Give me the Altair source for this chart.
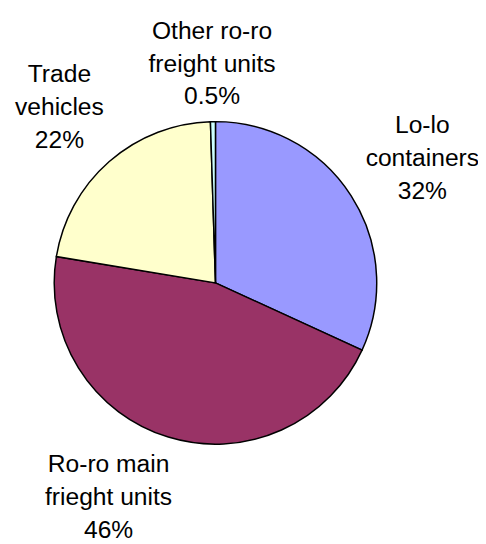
import altair as alt
import pandas as pd

categories = ["Lo-lo containers", "Ro-ro main frieght units", "Trade vehicles", "Other ro-ro freight units"]
values = [32, 46, 22, 0.5]
labels = ["Lo-lo\ncontainers\n32%", "Ro-ro main\nfrieght units\n46%", "Trade\nvehicles\n22%", "Other ro-ro\nfreight units\n0.5%"]
colors = ["#9999FF", "#993366", "#FFFFCC", "#CCFFFF"]

df = pd.DataFrame({"cat": categories, "value": values, "label": labels, "order": list(range(len(categories)))})

# layout (pixels within the view)
CX, CY = 211, 275
R = 164
LH = 33.5
label_radius = [250, 228, 241, 223]
label_dx = [0, -42, 0, 0]
label_dy = [8, 0, 3, 0]

base = alt.Chart(df).transform_joinaggregate(
    total="sum(value)"
).transform_window(
    cum="sum(value)", sort=[alt.SortField("order")], frame=[None, 0]
).transform_calculate(
    mid="(datum.cum - datum.value / 2) / datum.total * 2 * PI"
)

pie = base.mark_arc(stroke="black", strokeWidth=1.5, radius=R).encode(
    theta=alt.Theta("value:Q", stack=True),
    order=alt.Order("order:Q"),
    color=alt.Color("cat:N", scale=alt.Scale(domain=categories, range=colors), legend=None),
    x=alt.value(CX),
    y=alt.value(CY),
)

layers = [pie]
for i, c in enumerate(categories):
    t = base.mark_text(
        font="Liberation Sans", fontSize=25, lineBreak="\n", lineHeight=LH,
        align="center", baseline="middle", color="black",
        radius=label_radius[i], dx=label_dx[i], dy=label_dy[i] - LH,
    ).encode(
        theta=alt.Theta("mid:Q", scale=None),
        text="label:N",
        x=alt.value(CX),
        y=alt.value(CY),
    ).transform_filter(alt.datum.cat == c)
    layers.append(t)

chart = alt.layer(*layers).properties(
    width=478, height=536, padding=0, autosize=alt.AutoSizeParams(type="none"),
).configure_view(stroke=None)

chart.save("out.html", embed_options={"renderer": "svg", "actions": False})
